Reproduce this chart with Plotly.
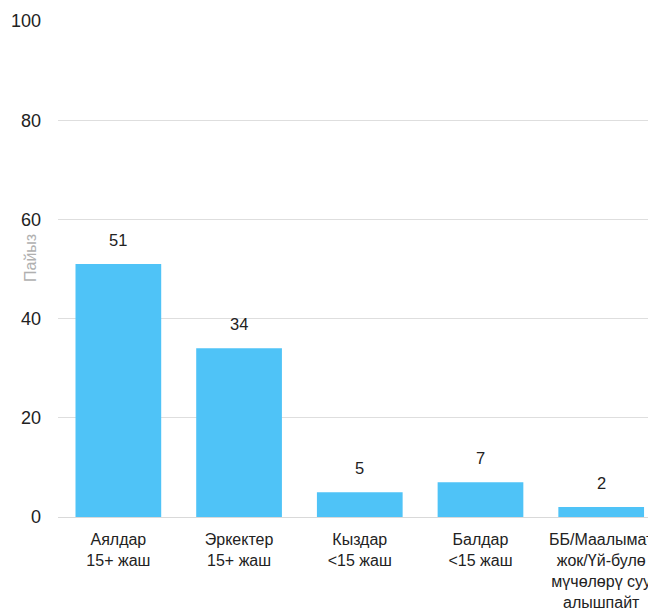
import plotly.graph_objects as go

categories = ["Аялдар<br>15+ жаш", "Эркектер<br>15+ жаш", "Кыздар<br><15 жаш",
              "Балдар<br><15 жаш", "ББ/Маалымат<br>жок/Үй-булө<br>мүчөлөрү суу<br>алышпайт"]
values = [51, 34, 5, 7, 2]
value_labels = ["51", "34", "5", "7", "2"]
y_ticks = [0, 20, 40, 60, 80, 100]
y_title = "Пайыз"

font_family = "Liberation Sans, Arial, sans-serif"
xs = list(range(len(categories)))

fig = go.Figure()
fig.add_trace(go.Bar(
    x=xs,
    y=values,
    marker=dict(color="#4FC3F7", line=dict(width=0)),
    width=0.71,
    hoverinfo="skip",
))

for xi, v, lab in zip(xs, values, value_labels):
    fig.add_annotation(
        x=xi, y=v, text=lab, showarrow=False,
        xanchor="center", yanchor="bottom", yshift=13,
        font=dict(size=16.5, color="#222222", family=font_family),
    )

fig.update_layout(
    width=648, height=604,
    margin=dict(l=50, r=0, t=13, b=95),
    plot_bgcolor="white", paper_bgcolor="white",
    showlegend=False,
    font=dict(family=font_family, size=16, color="#222222"),
    xaxis=dict(
        range=[-0.5, 4.454],
        tickmode="array",
        tickvals=xs,
        ticktext=categories,
        showgrid=False,
        showline=True, linecolor="#d9d9d9", linewidth=1,
        ticks="", tickfont=dict(size=16, color="#222222"),
        ticklabelstandoff=8,
        ticklabeloverflow="allow",
        automargin=False,
        zeroline=False,
        fixedrange=True,
    ),
    yaxis=dict(
        range=[0, 100],
        tickmode="array",
        tickvals=y_ticks,
        showgrid=True, gridcolor="#dedede", gridwidth=1,
        zeroline=False,
        showline=False,
        ticks="",
        ticklabelstandoff=16,
        tickfont=dict(size=18, color="#222222"),
        automargin=False,
        fixedrange=True,
    ),
)

fig.add_annotation(
    text=y_title, xref="paper", yref="paper",
    x=-0.047, y=0.522, xanchor="center", yanchor="middle",
    textangle=-90, showarrow=False,
    font=dict(size=16, color="#b0b0b0", family=font_family),
)

fig.write_html("out.html")
